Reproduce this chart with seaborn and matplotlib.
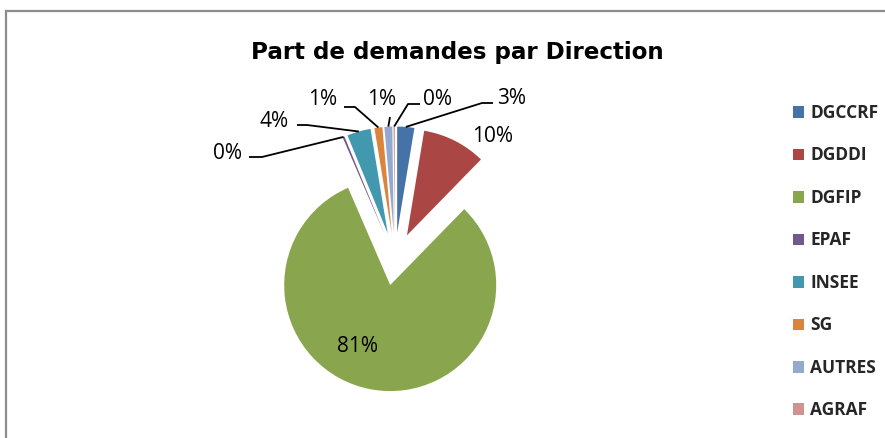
import math
import matplotlib
matplotlib.use("Agg")
import matplotlib.pyplot as plt
import seaborn as sns
from matplotlib.patches import Rectangle, Patch
from matplotlib.font_manager import FontProperties

# ---- data ----
categories = ["DGCCRF", "DGDDI", "DGFIP", "EPAF", "INSEE", "SG", "AUTRES", "AGRAF"]
shares = [2.6, 9.7, 81.2, 0.3, 3.6, 1.2, 1.2, 0.2]
colors = ["#4572A7", "#AA4643", "#89A54E", "#71588F", "#4198AF", "#DB843D", "#93A9CF", "#D19392"]
title = "Part de demandes par Direction"

sns.set_theme(style="white")
palette = sns.color_palette(colors)
plt.rcParams["font.family"] = ["Open Sans", "DejaVu Sans"]

W, H = 885, 438
fig = plt.figure(figsize=(W / 100, H / 100), dpi=100)
ax = fig.add_axes([0, 0, 1, 1])


def P(px, py):
    """pixel (y down) -> data coords (y up)"""
    return px, H - py


cx, cy = P(395, 259)
R = 106
EXPLODE = 0.25 * R
wedges, _ = ax.pie(shares, colors=palette, startangle=90, counterclock=False,
                   explode=[EXPLODE] * len(shares), center=(cx, cy), radius=R,
                   wedgeprops=dict(linewidth=0))
ax.set_xlim(0, W)
ax.set_ylim(0, H)
ax.set_aspect("equal")
ax.axis("off")

total = sum(shares)
labels = [f"{round(v / total * 100)}%" for v in shares]

# label layout (pixel positions): text center x, baseline y, leader path
layout = {
    "DGCCRF": ((512, 104), [(482, 103), (493, 103)]),
    "DGDDI": ((493, 142), None),
    "DGFIP": ((358, 352), None),
    "EPAF": ((228, 159), [(262, 157), (249, 157)]),
    "INSEE": ((274, 127), [(307, 125), (297, 125)]),
    "SG": ((323, 105), [(355, 107), (344, 107)]),
    "AUTRES": ((382, 105), [(390, 117)]),
    "AGRAF": ((438, 105), [(408, 104), (420, 104)]),
}

for w, cat, lab in zip(wedges, categories, labels):
    (tx, ty), path = layout[cat]
    ax.text(*P(tx, ty), lab, ha="center", va="baseline", fontsize=15, color="black")
    if path:
        mid = math.radians((w.theta1 + w.theta2) / 2)
        ax_, ay_ = w.center[0] + w.r * math.cos(mid), w.center[1] + w.r * math.sin(mid)
        xs = [ax_] + [P(*p)[0] for p in path]
        ys = [ay_] + [P(*p)[1] for p in path]
        ax.plot(xs, ys, color="black", lw=1.3, solid_capstyle="butt")

# title
ax.text(*P(457, 59), title, ha="center", va="baseline", fontsize=16.6,
        fontweight="bold", color="black", family=["DejaVu Sans"])

# legend
handles = [Patch(facecolor=c, edgecolor="none") for c in palette]
leg = ax.legend(handles, categories, loc="upper left",
                bbox_to_anchor=(793 / W, 1 - 104 / H), frameon=False,
                handlelength=0.65, handleheight=0.65, handletextpad=0.35,
                labelspacing=1.41, borderaxespad=0, borderpad=0,
                prop=FontProperties(family="Open Sans", weight="bold", size=12.5))

# chart area border
fig.patches.append(Rectangle((6 / W, -0.1), 1.2, 1.1 - 11 / H, transform=fig.transFigure,
                             fill=False, edgecolor="#8c8c8c", lw=1.6))

fig.savefig("out.png", dpi=100, facecolor="white")
